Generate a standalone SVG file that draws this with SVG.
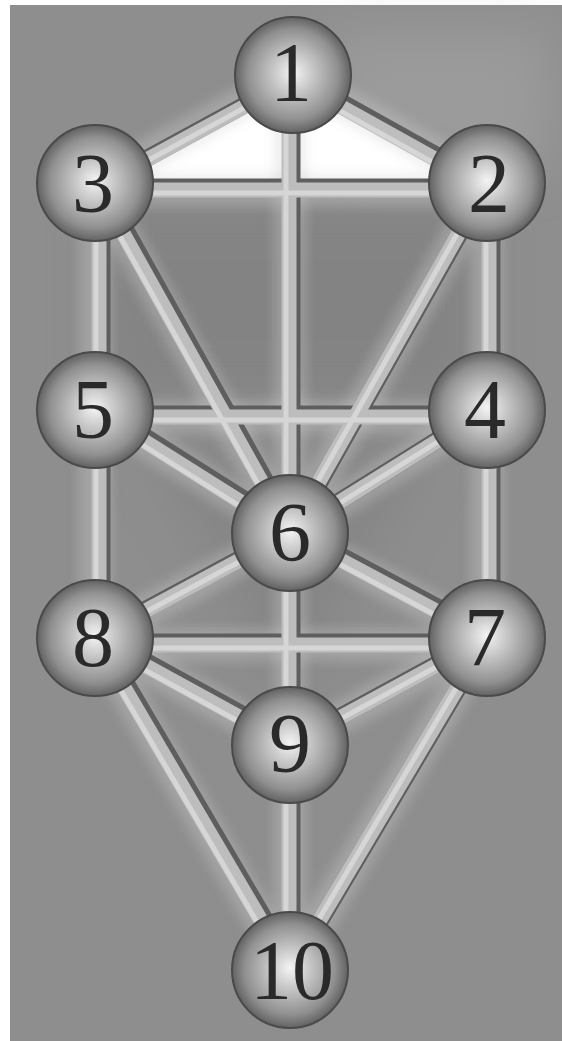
<svg xmlns="http://www.w3.org/2000/svg" width="562" height="1041" viewBox="0 0 562 1041">
<style>
.num{font-family:"Liberation Serif","Times New Roman",serif;font-size:84px;fill:#2a2a2a;text-anchor:middle}
.sph{fill:url(#sg);stroke:#4a4a4a;stroke-width:2}
.shadow line{stroke:#5e5e5e;stroke-width:17;stroke-linecap:butt}
.band line{stroke:#bdbdbd;stroke-width:15;stroke-linecap:butt}
.hi line{stroke:#d6d6d6;stroke-width:5;stroke-linecap:butt}
.glow line{stroke:#cfcfcf;stroke-width:32;opacity:0.35}
</style>
<defs>
<radialGradient id="sg" cx="50%" cy="50%" r="50%" fx="50%" fy="48%">
<stop offset="0" stop-color="#f4f4f4"/>
<stop offset="0.35" stop-color="#c6c6c6"/>
<stop offset="0.78" stop-color="#909090"/>
<stop offset="1" stop-color="#626262"/>
</radialGradient>
<filter id="blur" x="-20%" y="-20%" width="140%" height="140%"><feGaussianBlur stdDeviation="6"/></filter>
<filter id="blur2" x="-50%" y="-50%" width="200%" height="200%"><feGaussianBlur stdDeviation="25"/></filter>
</defs>
<rect x="0" y="0" width="562" height="1041" fill="#ffffff"/>
<rect x="10" y="5" width="552" height="1036" fill="#8e8e8e"/>
<g filter="url(#blur2)" opacity="0.5">
<rect x="330" y="30" width="220" height="140" fill="#a8a8a8"/>
<polygon points="100,200 480,200 480,400 100,400" fill="#7a7a7a"/>
<polygon points="150,450 430,450 290,700" fill="#7e7e7e"/>
</g>
<polygon points="95,183 293,75 487,183" fill="#ffffff"/>
<g id="connectors">
<g class="glow" filter="url(#blur)">
<line x1="95" y1="183" x2="293" y2="75"/><line x1="293" y1="75" x2="487" y2="183"/><line x1="95" y1="190" x2="487" y2="190"/>
<line x1="290" y1="75" x2="290" y2="970"/><line x1="95" y1="183" x2="95" y2="638"/><line x1="487" y1="183" x2="487" y2="638"/>
<line x1="95" y1="183" x2="290" y2="533"/><line x1="487" y1="183" x2="290" y2="533"/><line x1="95" y1="417" x2="487" y2="417"/>
<line x1="95" y1="410" x2="290" y2="533"/><line x1="487" y1="410" x2="290" y2="533"/><line x1="95" y1="638" x2="290" y2="533"/>
<line x1="487" y1="638" x2="290" y2="533"/><line x1="95" y1="645" x2="487" y2="645"/><line x1="95" y1="638" x2="290" y2="745"/>
<line x1="487" y1="638" x2="290" y2="745"/><line x1="95" y1="638" x2="290" y2="970"/><line x1="487" y1="638" x2="290" y2="970"/>
</g>
<g class="shadow" transform="translate(3,-3)">
<line x1="95" y1="188" x2="293" y2="80"/><line x1="293" y1="80" x2="487" y2="188"/><line x1="95" y1="190" x2="487" y2="190"/>
<line x1="289" y1="75" x2="289" y2="970"/><line x1="99" y1="183" x2="99" y2="638"/><line x1="489" y1="183" x2="489" y2="638"/>
<line x1="95" y1="183" x2="290" y2="533"/><line x1="487" y1="183" x2="290" y2="533"/><line x1="95" y1="417" x2="487" y2="417"/>
<line x1="95" y1="410" x2="290" y2="533"/><line x1="487" y1="410" x2="290" y2="533"/><line x1="95" y1="638" x2="290" y2="533"/>
<line x1="487" y1="638" x2="290" y2="533"/><line x1="95" y1="645" x2="487" y2="645"/><line x1="95" y1="638" x2="290" y2="745"/>
<line x1="487" y1="638" x2="290" y2="745"/><line x1="95" y1="638" x2="290" y2="970"/><line x1="487" y1="638" x2="290" y2="970"/>
</g>
<g class="band">
<line x1="95" y1="188" x2="293" y2="80"/><line x1="293" y1="80" x2="487" y2="188"/><line x1="95" y1="190" x2="487" y2="190"/>
<line x1="289" y1="75" x2="289" y2="970"/><line x1="99" y1="183" x2="99" y2="638"/><line x1="489" y1="183" x2="489" y2="638"/>
<line x1="95" y1="183" x2="290" y2="533"/><line x1="487" y1="183" x2="290" y2="533"/><line x1="95" y1="417" x2="487" y2="417"/>
<line x1="95" y1="410" x2="290" y2="533"/><line x1="487" y1="410" x2="290" y2="533"/><line x1="95" y1="638" x2="290" y2="533"/>
<line x1="487" y1="638" x2="290" y2="533"/><line x1="95" y1="645" x2="487" y2="645"/><line x1="95" y1="638" x2="290" y2="745"/>
<line x1="487" y1="638" x2="290" y2="745"/><line x1="95" y1="638" x2="290" y2="970"/><line x1="487" y1="638" x2="290" y2="970"/>
</g>
<g class="hi" transform="translate(-3,3)">
<line x1="95" y1="188" x2="293" y2="80"/><line x1="293" y1="80" x2="487" y2="188"/><line x1="95" y1="190" x2="487" y2="190"/>
<line x1="289" y1="75" x2="289" y2="970"/><line x1="99" y1="183" x2="99" y2="638"/><line x1="489" y1="183" x2="489" y2="638"/>
<line x1="95" y1="183" x2="290" y2="533"/><line x1="487" y1="183" x2="290" y2="533"/><line x1="95" y1="417" x2="487" y2="417"/>
<line x1="95" y1="410" x2="290" y2="533"/><line x1="487" y1="410" x2="290" y2="533"/><line x1="95" y1="638" x2="290" y2="533"/>
<line x1="487" y1="638" x2="290" y2="533"/><line x1="95" y1="645" x2="487" y2="645"/><line x1="95" y1="638" x2="290" y2="745"/>
<line x1="487" y1="638" x2="290" y2="745"/><line x1="95" y1="638" x2="290" y2="970"/><line x1="487" y1="638" x2="290" y2="970"/>
</g>
</g>
<g id="node1"><circle class="sph" cx="293" cy="75" r="58"/><text class="num" x="291" y="101">1</text></g>
<g id="node2"><circle class="sph" cx="487" cy="183" r="58"/><text class="num" x="489" y="212">2</text></g>
<g id="node3"><circle class="sph" cx="95" cy="183" r="58"/><text class="num" x="93" y="212">3</text></g>
<g id="node4"><circle class="sph" cx="487" cy="410" r="58"/><text class="num" x="485" y="438">4</text></g>
<g id="node5"><circle class="sph" cx="95" cy="410" r="58"/><text class="num" x="93" y="438">5</text></g>
<g id="node6"><circle class="sph" cx="290" cy="533" r="58"/><text class="num" x="290" y="561">6</text></g>
<g id="node7"><circle class="sph" cx="487" cy="638" r="58"/><text class="num" x="485" y="666">7</text></g>
<g id="node8"><circle class="sph" cx="95" cy="638" r="58"/><text class="num" x="93" y="666">8</text></g>
<g id="node9"><circle class="sph" cx="290" cy="745" r="58"/><text class="num" x="290" y="772">9</text></g>
<g id="node10"><circle class="sph" cx="290" cy="970" r="58"/><text class="num" x="292" y="999">10</text></g>
</svg>
